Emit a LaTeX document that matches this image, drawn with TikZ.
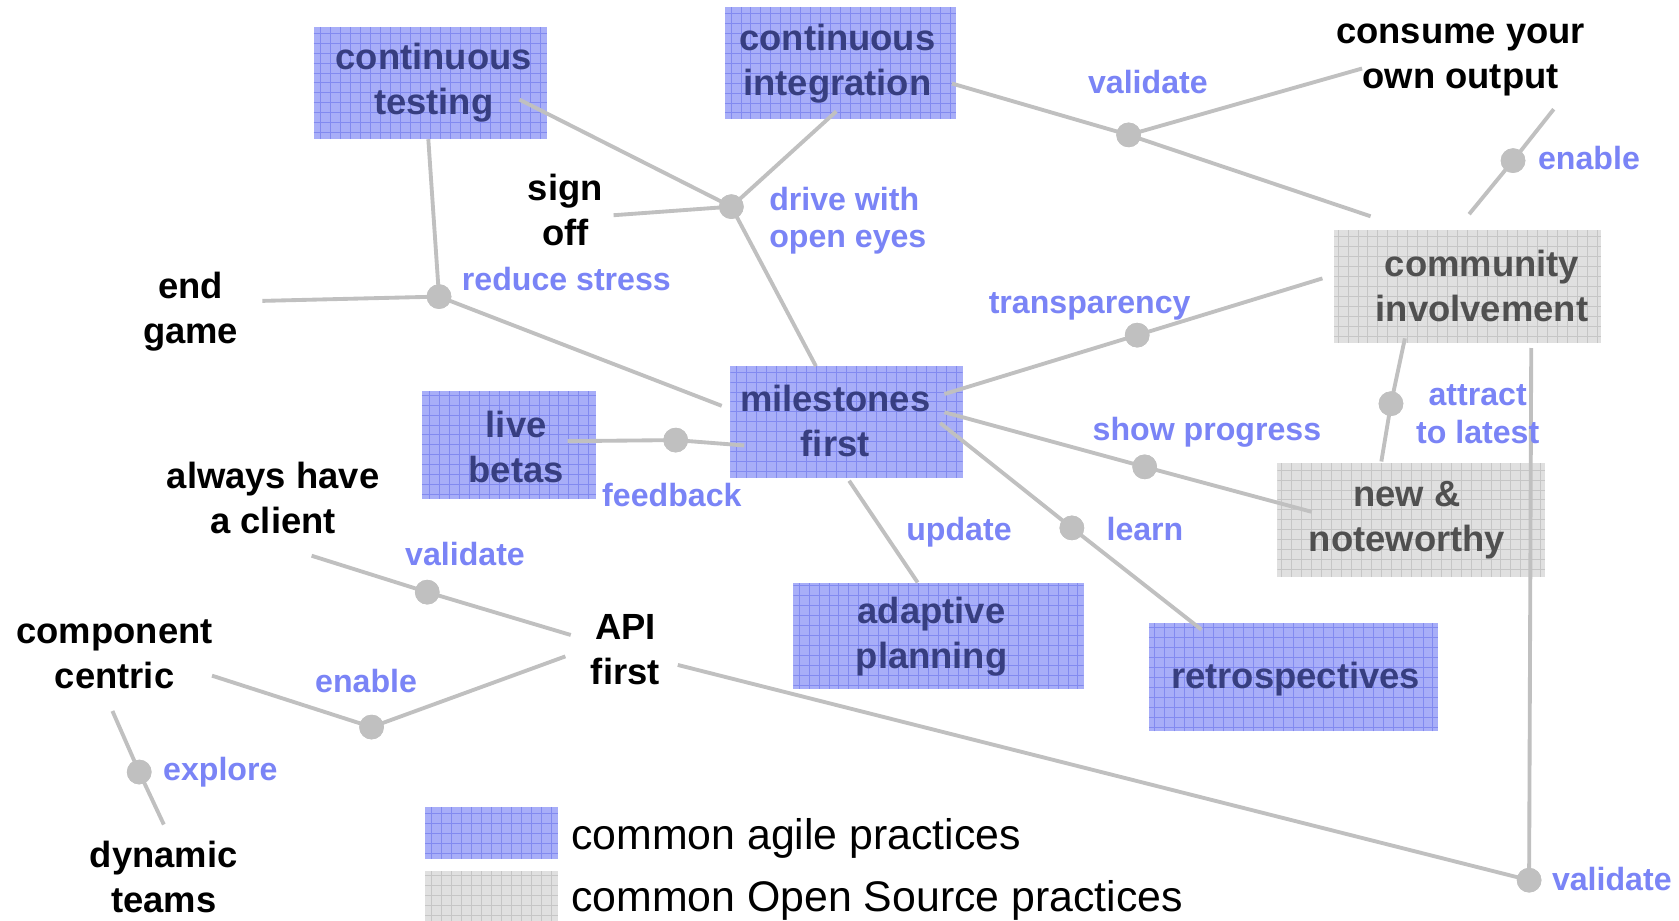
\documentclass[tikz,border=0pt]{standalone}
\usepackage{fontspec}
\setmainfont{Liberation Sans}
\definecolor{boxblue}{RGB}{168,174,248}
\definecolor{gridblue}{RGB}{130,138,240}
\definecolor{boxgrey}{RGB}{224,224,224}
\definecolor{gridgrey}{RGB}{198,198,198}
\definecolor{navytext}{RGB}{55,62,128}
\definecolor{greytext}{RGB}{80,80,80}
\definecolor{labelblue}{RGB}{122,132,246}
\definecolor{linkgrey}{RGB}{192,192,192}
\tikzset{
  agile/.style={fill=boxblue, inner sep=0pt,
    path picture={\draw[gridblue, line width=0.45pt]
      (path picture bounding box.south west) grid[step=4.65pt]
      (path picture bounding box.north east);}},
  opensrc/.style={fill=boxgrey, inner sep=0pt,
    path picture={\draw[gridgrey, line width=0.45pt]
      (path picture bounding box.south west) grid[step=4.65pt]
      (path picture bounding box.north east);}},
  boxtext/.style={align=center, inner sep=0pt, font=\bfseries\fontsize{17}{21}\selectfont},
  agiletext/.style={boxtext, text=navytext},
  ostext/.style={boxtext, text=greytext},
  topic/.style={align=center, inner sep=0pt, text=black, font=\bfseries\fontsize{17}{21}\selectfont},
  verb/.style={align=left, inner sep=0pt, text=labelblue, font=\bfseries\fontsize{15}{17.5}\selectfont},
  legendtext/.style={anchor=west, inner sep=0pt, text=black, font=\fontsize{20}{24}\selectfont},
  link/.style={draw=linkgrey, line width=1.8pt},
  hub/.style={circle, fill=linkgrey, minimum size=11.5pt, inner sep=0pt},
}
\begin{document}
\begin{tikzpicture}[x=0.5pt, y=-0.5pt]
\fill[white] (0,0) rectangle (1568,860);
\useasboundingbox (0,0) rectangle (1568,860);

% practice boxes
\node[agile, minimum width=109pt, minimum height=52.5pt] (ct) at (402,77.5) {};
\node[agile, minimum width=108pt, minimum height=52pt] (ci) at (785,59) {};
\node[agile, minimum width=108.5pt, minimum height=52pt] (ms) at (790.5,394) {};
\node[agile, minimum width=81.5pt, minimum height=50.5pt] (lb) at (475.5,415.5) {};
\node[agile, minimum width=135.5pt, minimum height=49.5pt] (ap) at (876.5,593.5) {};
\node[agile, minimum width=135pt, minimum height=50.5pt] (rt) at (1208,632.5) {};
\node[opensrc, minimum width=124.5pt, minimum height=52.5pt] (com) at (1370.5,267.5) {};
\node[opensrc, minimum width=125pt, minimum height=53.5pt] (nn) at (1318,485.5) {};
\node[agile, minimum width=62pt, minimum height=24pt] (lgb) at (459,778) {};
\node[opensrc, minimum width=62pt, minimum height=23.5pt] (lgg) at (459,836.5) {};

% hubs
\node[hub] (d1) at (683,193) {};
\node[hub] (d2) at (410,277) {};
\node[hub] (d3) at (1054,126) {};
\node[hub] (d4) at (1413,150) {};
\node[hub] (d5) at (1062,313) {};
\node[hub] (d6) at (1299,377) {};
\node[hub] (d7) at (631,411) {};
\node[hub] (d8) at (1069,436) {};
\node[hub] (d9) at (1001,493) {};
\node[hub] (d10) at (399,553) {};
\node[hub] (d11) at (347,679) {};
\node[hub] (d12) at (130,721) {};
\node[hub] (d13) at (1428,822) {};

% connector ends
\coordinate (ct-r) at (485,93);
\coordinate (ct-b) at (400,130);
\coordinate (ci-b) at (781,104);
\coordinate (ci-r) at (889,78);
\coordinate (sign-r) at (573,201);
\coordinate (ms-t) at (762,342);
\coordinate (ms-l) at (674,379);
\coordinate (ms-il) at (695,416);
\coordinate (ms-r1) at (882,368);
\coordinate (ms-r2) at (882,385);
\coordinate (ms-r3) at (878,395);
\coordinate (ms-b) at (793,449);
\coordinate (end-r) at (245,281);
\coordinate (own-l) at (1272,64);
\coordinate (own-b) at (1451,102);
\coordinate (com-t1) at (1280,202);
\coordinate (com-t2) at (1372,200);
\coordinate (com-l) at (1235,260);
\coordinate (com-b1) at (1312,316);
\coordinate (com-b2) at (1430,325);
\coordinate (nn-t) at (1290,431);
\coordinate (nn-l) at (1225,478);
\coordinate (lb-r) at (530,412);
\coordinate (rt-t) at (1122,588);
\coordinate (ap-t) at (857,544);
\coordinate (client-r) at (291,519);
\coordinate (api-l1) at (533,593);
\coordinate (api-l2) at (528,613);
\coordinate (api-r) at (633,621);
\coordinate (comp-r) at (198,631);
\coordinate (comp-b) at (105,664);
\coordinate (dyn-t) at (153,770);

% connectors
\begin{scope}[link]
\draw (ct-r) -- (d1.center);
\draw (ci-b) -- (d1.center);
\draw (sign-r) -- (d1.center);
\draw (d1.center) -- (ms-t);
\draw (ct-b) -- (d2.center);
\draw (end-r) -- (d2.center);
\draw (d2.center) -- (ms-l);
\draw (ci-r) -- (d3.center);
\draw (d3.center) -- (own-l);
\draw (d3.center) -- (com-t1);
\draw (own-b) -- (d4.center);
\draw (d4.center) -- (com-t2);
\draw (ms-r1) -- (d5.center);
\draw (d5.center) -- (com-l);
\draw (com-b1) -- (d6.center);
\draw (d6.center) -- (nn-t);
\draw (lb-r) -- (d7.center);
\draw (d7.center) -- (ms-il);
\draw (ms-r2) -- (d8.center);
\draw (d8.center) -- (nn-l);
\draw (ms-r3) -- (d9.center);
\draw (d9.center) -- (rt-t);
\draw (ms-b) -- (ap-t);
\draw (client-r) -- (d10.center);
\draw (d10.center) -- (api-l1);
\draw (comp-r) -- (d11.center);
\draw (d11.center) -- (api-l2);
\draw (comp-b) -- (d12.center);
\draw (d12.center) -- (dyn-t);
\draw (api-r) -- (d13.center);
\draw (d13.center) -- (com-b2);
\end{scope}
% redraw hubs over the line joints
\foreach \h in {d1,d2,d3,d4,d5,d6,d7,d8,d9,d10,d11,d12,d13}
  \fill[linkgrey] (\h) circle (5.75pt);

% box captions
\node[agiletext] (ct-txt) at (405,77.5) {continuous\\testing};
\node[agiletext] (ci-txt) at (782,59.5) {continuous\\integration};
\node[agiletext] (ms-txt) at (780,393) {milestones\\first};
\node[agiletext] (lb-txt) at (482,417) {live\\betas};
\node[agiletext] (ap-txt) at (870,594.5) {adaptive\\planning};
\node[agiletext] (rt-txt) at (1210,634) {retrospectives};
\node[ostext] (com-txt) at (1384,267) {community\\involvement};
\node[ostext] (nn-txt) at (1314,486) {new \&\\noteworthy};

% plain topics
\node[topic] (sign) at (528,196) {sign\\off};
\node[topic] (end) at (178,291) {end\\game};
\node[topic] (client) at (255,465) {always have\\a client};
\node[topic] (comp) at (107,611) {component\\centric};
\node[topic] (api) at (584,607) {API\\first};
\node[topic] (dyn) at (153,819) {dynamic\\teams};
\node[topic] (own) at (1364,56) {consume your\\own output};

% relation labels
\node[verb, align=center] (v-validate1) at (1072,77) {validate};
\node[verb, anchor=west] (v-enable1) at (1436,148) {enable};
\node[verb, anchor=west] (v-drive) at (718,206) {drive with\\open eyes};
\node[verb, anchor=west] (v-stress) at (431,261) {reduce stress};
\node[verb, anchor=west] (v-transp) at (923,286) {transparency};
\node[verb, anchor=west] (v-progress) at (1020,404) {show progress};
\node[verb, align=center] (v-attract) at (1380,387) {attract\\to latest};
\node[verb, anchor=west] (v-feedback) at (562,462) {feedback};
\node[verb, anchor=west] (v-update) at (846,497) {update};
\node[verb, anchor=west] (v-learn) at (1033,494) {learn};
\node[verb, anchor=west] (v-validate2) at (378,517) {validate};
\node[verb, anchor=west] (v-enable2) at (294,636) {enable};
\node[verb, anchor=west] (v-explore) at (152,721) {explore};
\node[verb, anchor=west] (v-validate3) at (1449,821) {validate};

% legend
\node[legendtext] (lg-agile) at (533,783) {common agile practices};
\node[legendtext] (lg-os) at (533,841) {common Open Source practices};
\end{tikzpicture}
\end{document}
